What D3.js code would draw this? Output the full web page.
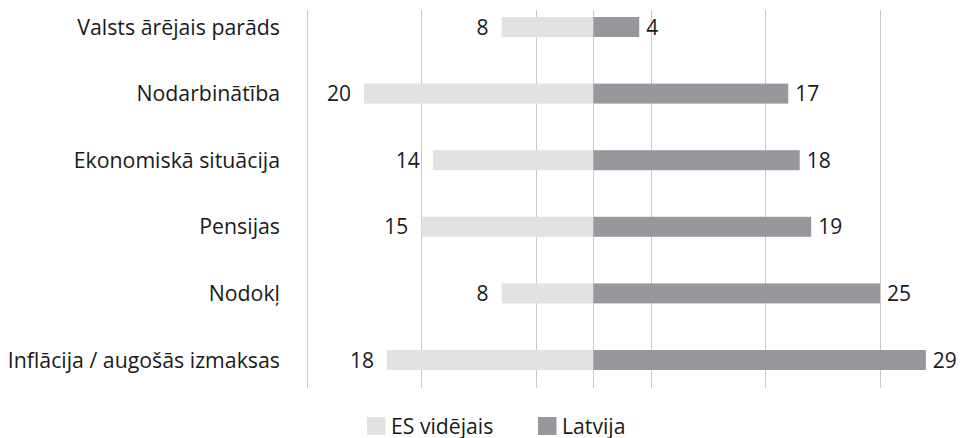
<!DOCTYPE html>
<html><head><meta charset="utf-8">
<script src="https://cdn.jsdelivr.net/npm/d3@7/dist/d3.min.js"></script>
<style>body{margin:0;background:#fff}svg{display:block}</style>
</head><body>
<svg id="c" width="961" height="438"></svg>
<script>
const categories = ["Valsts ārējais parāds","Nodarbinātība","Ekonomiskā situācija","Pensijas","Nodokļ","Inflācija / augošās izmaksas"];
const esValues = [8,20,14,15,8,18];
const lvValues = [4,17,18,19,25,29];
const gridTicks = [-25,-15,-5,0,5,15,25];
const seriesNames = ["ES vidējais","Latvija"];
const colors = {es:"#e1e2e4", lv:"#97989b", grid:"#c9c9c9", text:"#1a1a1a"};

const svg = d3.select("#c");
const x = d3.scaleLinear().domain([-25,25]).range([306.7,880]);
const y = d3.scaleBand().domain(categories).range([-6.3,393.3]).paddingInner(0.7).paddingOuter(0.35);

svg.append("g").selectAll("line").data(gridTicks).join("line")
  .attr("x1",d=>Math.round(x(d))+0.5).attr("x2",d=>Math.round(x(d))+0.5)
  .attr("y1",10).attr("y2",388).attr("stroke",colors.grid).attr("stroke-width",1);

const rows = categories.map((c,i)=>({c, es:esValues[i], lv:lvValues[i]}));
const bh = 20;
const cy = d => y(d.c)+y.bandwidth()/2;

svg.append("g").selectAll("rect").data(rows).join("rect")
  .attr("x",d=>x(-d.es)).attr("width",d=>x(0)-x(-d.es))
  .attr("y",d=>cy(d)-bh/2).attr("height",bh).attr("fill",colors.es);
svg.append("g").selectAll("rect").data(rows).join("rect")
  .attr("x",x(0)).attr("width",d=>x(d.lv)-x(0))
  .attr("y",d=>cy(d)-bh/2).attr("height",bh).attr("fill",colors.lv);

const font = "'Open Sans', 'Noto Sans', sans-serif";
svg.append("g").selectAll("text").data(rows).join("text")
  .attr("x",d=>x(-d.es)-13).attr("y",d=>cy(d)).attr("dy","0.36em")
  .attr("text-anchor","end").attr("font-family",font).attr("font-size",21)
  .attr("fill",colors.text).text(d=>d.es);
svg.append("g").selectAll("text").data(rows).join("text")
  .attr("x",d=>x(d.lv)+7).attr("y",d=>cy(d)).attr("dy","0.36em")
  .attr("text-anchor","start").attr("font-family",font).attr("font-size",21)
  .attr("fill",colors.text).text(d=>d.lv);

svg.append("g").selectAll("text").data(rows).join("text")
  .attr("x",280).attr("y",d=>cy(d)).attr("dy","0.36em")
  .attr("text-anchor","end").attr("font-family",font).attr("font-size",21.3)
  .attr("fill",colors.text).text(d=>d.c);

const leg = [{n:seriesNames[0],c:colors.es,x:367},{n:seriesNames[1],c:colors.lv,x:538}];
const lg = svg.append("g").selectAll("g").data(leg).join("g").attr("transform",d=>`translate(${d.x},0)`);
lg.append("rect").attr("x",0).attr("y",417).attr("width",18.5).attr("height",18).attr("fill",d=>d.c);
lg.append("text").attr("x",24).attr("y",434).attr("font-family",font).attr("font-size",21.2)
  .attr("fill",colors.text).text(d=>d.n);
</script>
</body></html>
